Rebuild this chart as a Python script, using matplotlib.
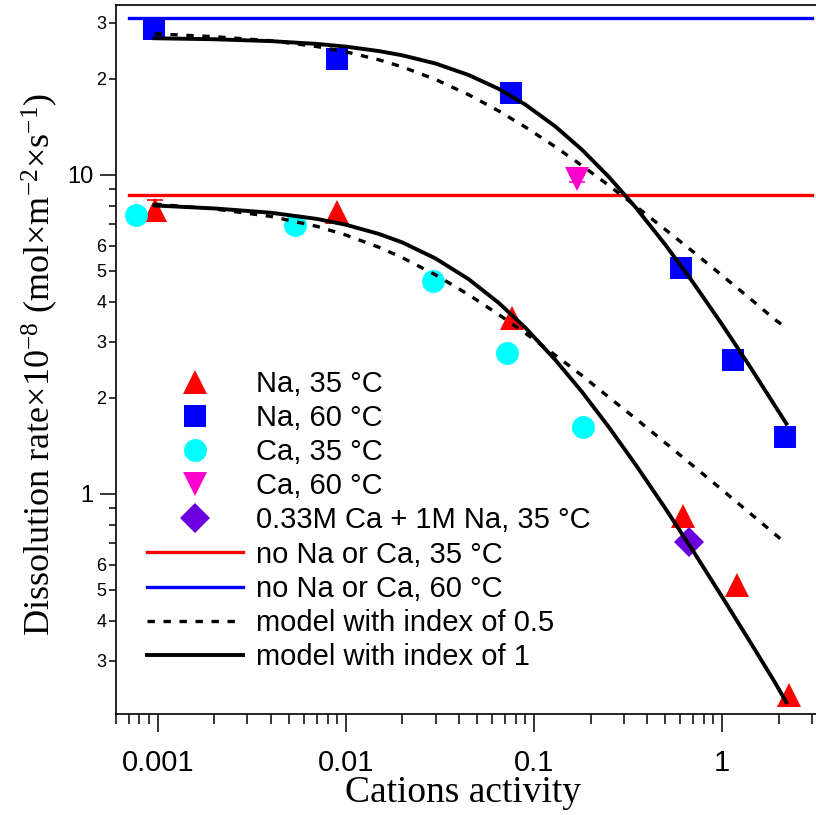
import numpy as np
import matplotlib
matplotlib.use('Agg')
import matplotlib.pyplot as plt
from matplotlib.ticker import LogLocator, NullFormatter

plt.rcParams['font.family'] = ['Liberation Sans', 'DejaVu Sans']
plt.rcParams['mathtext.fontset'] = 'custom'
plt.rcParams['mathtext.rm'] = 'Liberation Serif'
plt.rcParams['mathtext.it'] = 'Liberation Serif:italic'

# measured dissolution rates (x10^-8 mol m^-2 s^-1) vs cation activity
na35_x = [0.00097, 0.00903, 0.0764, 0.622, 1.197, 2.28]
na35_y = [7.77, 7.67, 3.56, 0.851, 0.519, 0.234]
na35_err = [0.6]          # only the first point has a visible bar

na60_x = [0.00095, 0.00893, 0.0760, 0.603, 1.14, 2.17]
na60_y = [28.6, 23.07, 18.1, 5.12, 2.63, 1.506]

ca35_x = [0.000763, 0.00536, 0.0291, 0.0718, 0.1828]
ca35_y = [7.47, 6.97, 4.65, 2.77, 1.625]

ca60_x = [0.1695]
ca60_y = [9.73]
ca60_err = [0.25]

mix_x = [0.670]
mix_y = [0.704]

# rates without added cations
plain_x = [0.0007, 3.0]
plain35 = 8.64
plain60 = 31.1

# model curves (index 1 = solid, index 0.5 = dashed)
model_x = [0.00096, 0.002, 0.004, 0.007, 0.01, 0.015, 0.02, 0.03, 0.045, 0.065,
           0.09, 0.13, 0.18, 0.25, 0.35, 0.5, 0.7, 1.0, 1.4, 1.9, 2.2]
m1_60_y = [26.82, 26.63, 26.27, 25.75, 25.25, 24.45, 23.71, 22.35, 20.57, 18.61,
           16.62, 14.19, 12.00, 9.87, 7.87, 6.04, 4.61, 3.40, 2.52, 1.90, 1.66]
m05_60_y = [27.7, 27.13, 26.34, 25.27, 24.32, 22.96, 21.80, 19.92, 17.84, 15.87,
            14.13, 12.25, 10.70, 9.27, 7.96, 6.74, 5.75, 4.84, 4.11, 3.53, 3.31]
m1_35_y = [8.02, 7.85, 7.61, 7.28, 6.98, 6.53, 6.14, 5.47, 4.71, 3.97,
           3.32, 2.63, 2.09, 1.62, 1.227, 0.900, 0.664, 0.476, 0.346, 0.258, 0.222]
m05_35_y = [8.1, 7.82, 7.41, 6.90, 6.48, 5.93, 5.50, 4.86, 4.21, 3.65,
            3.19, 2.72, 2.35, 2.01, 1.716, 1.445, 1.226, 1.030, 0.872, 0.750, 0.696]

xmajor = [0.001, 0.01, 0.1, 1]
xmajor_labels = ['0.001', '0.01', '0.1', '1']
ymajor = [1, 10]
ymajor_labels = ['1', '10']
yminor = [0.3, 0.4, 0.5, 0.6, 0.7, 0.8, 0.9, 2, 3, 4, 5, 6, 7, 8, 9, 20, 30]
yminor_labels = ['3', '4', '5', '6', '', '', '', '2', '3', '4', '5', '6', '', '', '', '2', '3']

fig = plt.figure(figsize=(8.16, 8.15), dpi=100)
ax = fig.add_axes([116/816, 1-714/815, 700/816, 709/815])
ax.set_xscale('log')
ax.set_yscale('log')

h_na35, = ax.plot(na35_x, na35_y, '^', color='#ff0000', ms=17, mew=0, label='Na, 35 °C', zorder=3)
ax.errorbar(na35_x[:1], na35_y[:1], yerr=na35_err, fmt='none', ecolor='#ff0000',
            elinewidth=1.2, capsize=6, capthick=1.2, zorder=3)
h_na60, = ax.plot(na60_x, na60_y, 's', color='#0000ff', ms=16, mew=0, label='Na, 60 °C', zorder=3)
h_ca35, = ax.plot(ca35_x, ca35_y, 'o', color='#00ffff', ms=16.5, mew=0, label='Ca, 35 °C', zorder=3)
h_ca60, = ax.plot(ca60_x, ca60_y, 'v', color='#ff00cc', ms=17, mew=0, label='Ca, 60 °C', zorder=3)
ax.errorbar(ca60_x, ca60_y, yerr=ca60_err, fmt='none', ecolor='#ff00cc',
            elinewidth=1.2, capsize=6, capthick=1.2, zorder=3)
h_mix, = ax.plot(mix_x, mix_y, 'D', color='#6a00dd', ms=15, mew=0,
                 label='0.33M Ca + 1M Na, 35 °C', zorder=3)

h_p35, = ax.plot(plain_x, [plain35, plain35], color='#ff0000', lw=2.4,
                 label='no Na or Ca, 35 °C', zorder=4)
h_p60, = ax.plot(plain_x, [plain60, plain60], color='#0000ff', lw=2.4,
                 label='no Na or Ca, 60 °C', zorder=4)

dash = (0, (2.2, 2.6))
h_m05, = ax.plot(model_x, m05_60_y, color='black', lw=2.4, linestyle=dash,
                 label='model with index of 0.5', zorder=5)
ax.plot(model_x, m05_35_y, color='black', lw=2.4, linestyle=dash, zorder=5)
h_m1, = ax.plot(model_x, m1_60_y, color='black', lw=2.8,
                label='model with index of 1', zorder=5)
ax.plot(model_x, m1_35_y, color='black', lw=2.8, zorder=5)

ax.set_xlim(0.0006, 3.162)
ax.set_ylim(0.204, 34.1)

ax.set_xticks(xmajor, xmajor_labels)
ax.xaxis.set_minor_locator(LogLocator(base=10, subs=np.arange(2, 10)))
ax.xaxis.set_minor_formatter(NullFormatter())
ax.set_yticks(ymajor, ymajor_labels)
ax.set_yticks(yminor, yminor_labels, minor=True)

ax.tick_params(axis='x', which='major', direction='out', length=13, width=1.1,
               labelsize=21, pad=12.5)
ax.tick_params(axis='x', which='minor', direction='out', length=7, width=1.1)
ax.tick_params(axis='y', which='major', direction='out', length=11.5, width=1.1,
               labelsize=17, pad=5)
ax.tick_params(axis='y', which='minor', direction='out', length=5, width=1.1,
               labelsize=13, pad=2)
for side in ['left', 'bottom', 'top']:
    ax.spines[side].set_linewidth(1.2)
ax.spines['right'].set_visible(False)

fig.text(463/816, 1-801.7/815, 'Cations activity', family='Liberation Serif',
         fontsize=27, ha='center', va='baseline')
fig.text(40/816, 1-365/815,
         'Dissolution rate×10$^{-8}$ (mol×m$^{-2}$×s$^{-1}$)',
         family='Liberation Serif', fontsize=26, rotation=90, ha='center', va='center')

handles = [h_na35, h_na60, h_ca35, h_ca60, h_mix, h_p35, h_p60, h_m05, h_m1]
ax.legend(handles, [h.get_label() for h in handles], loc='upper left',
          bbox_to_anchor=(147/816, 1-370/815), bbox_transform=fig.transFigure,
          frameon=False, fontsize=21, handlelength=3.3, handletextpad=0.45,
          labelspacing=0.21, borderpad=0, borderaxespad=0, numpoints=1)

fig.savefig('out.png', dpi=100)
